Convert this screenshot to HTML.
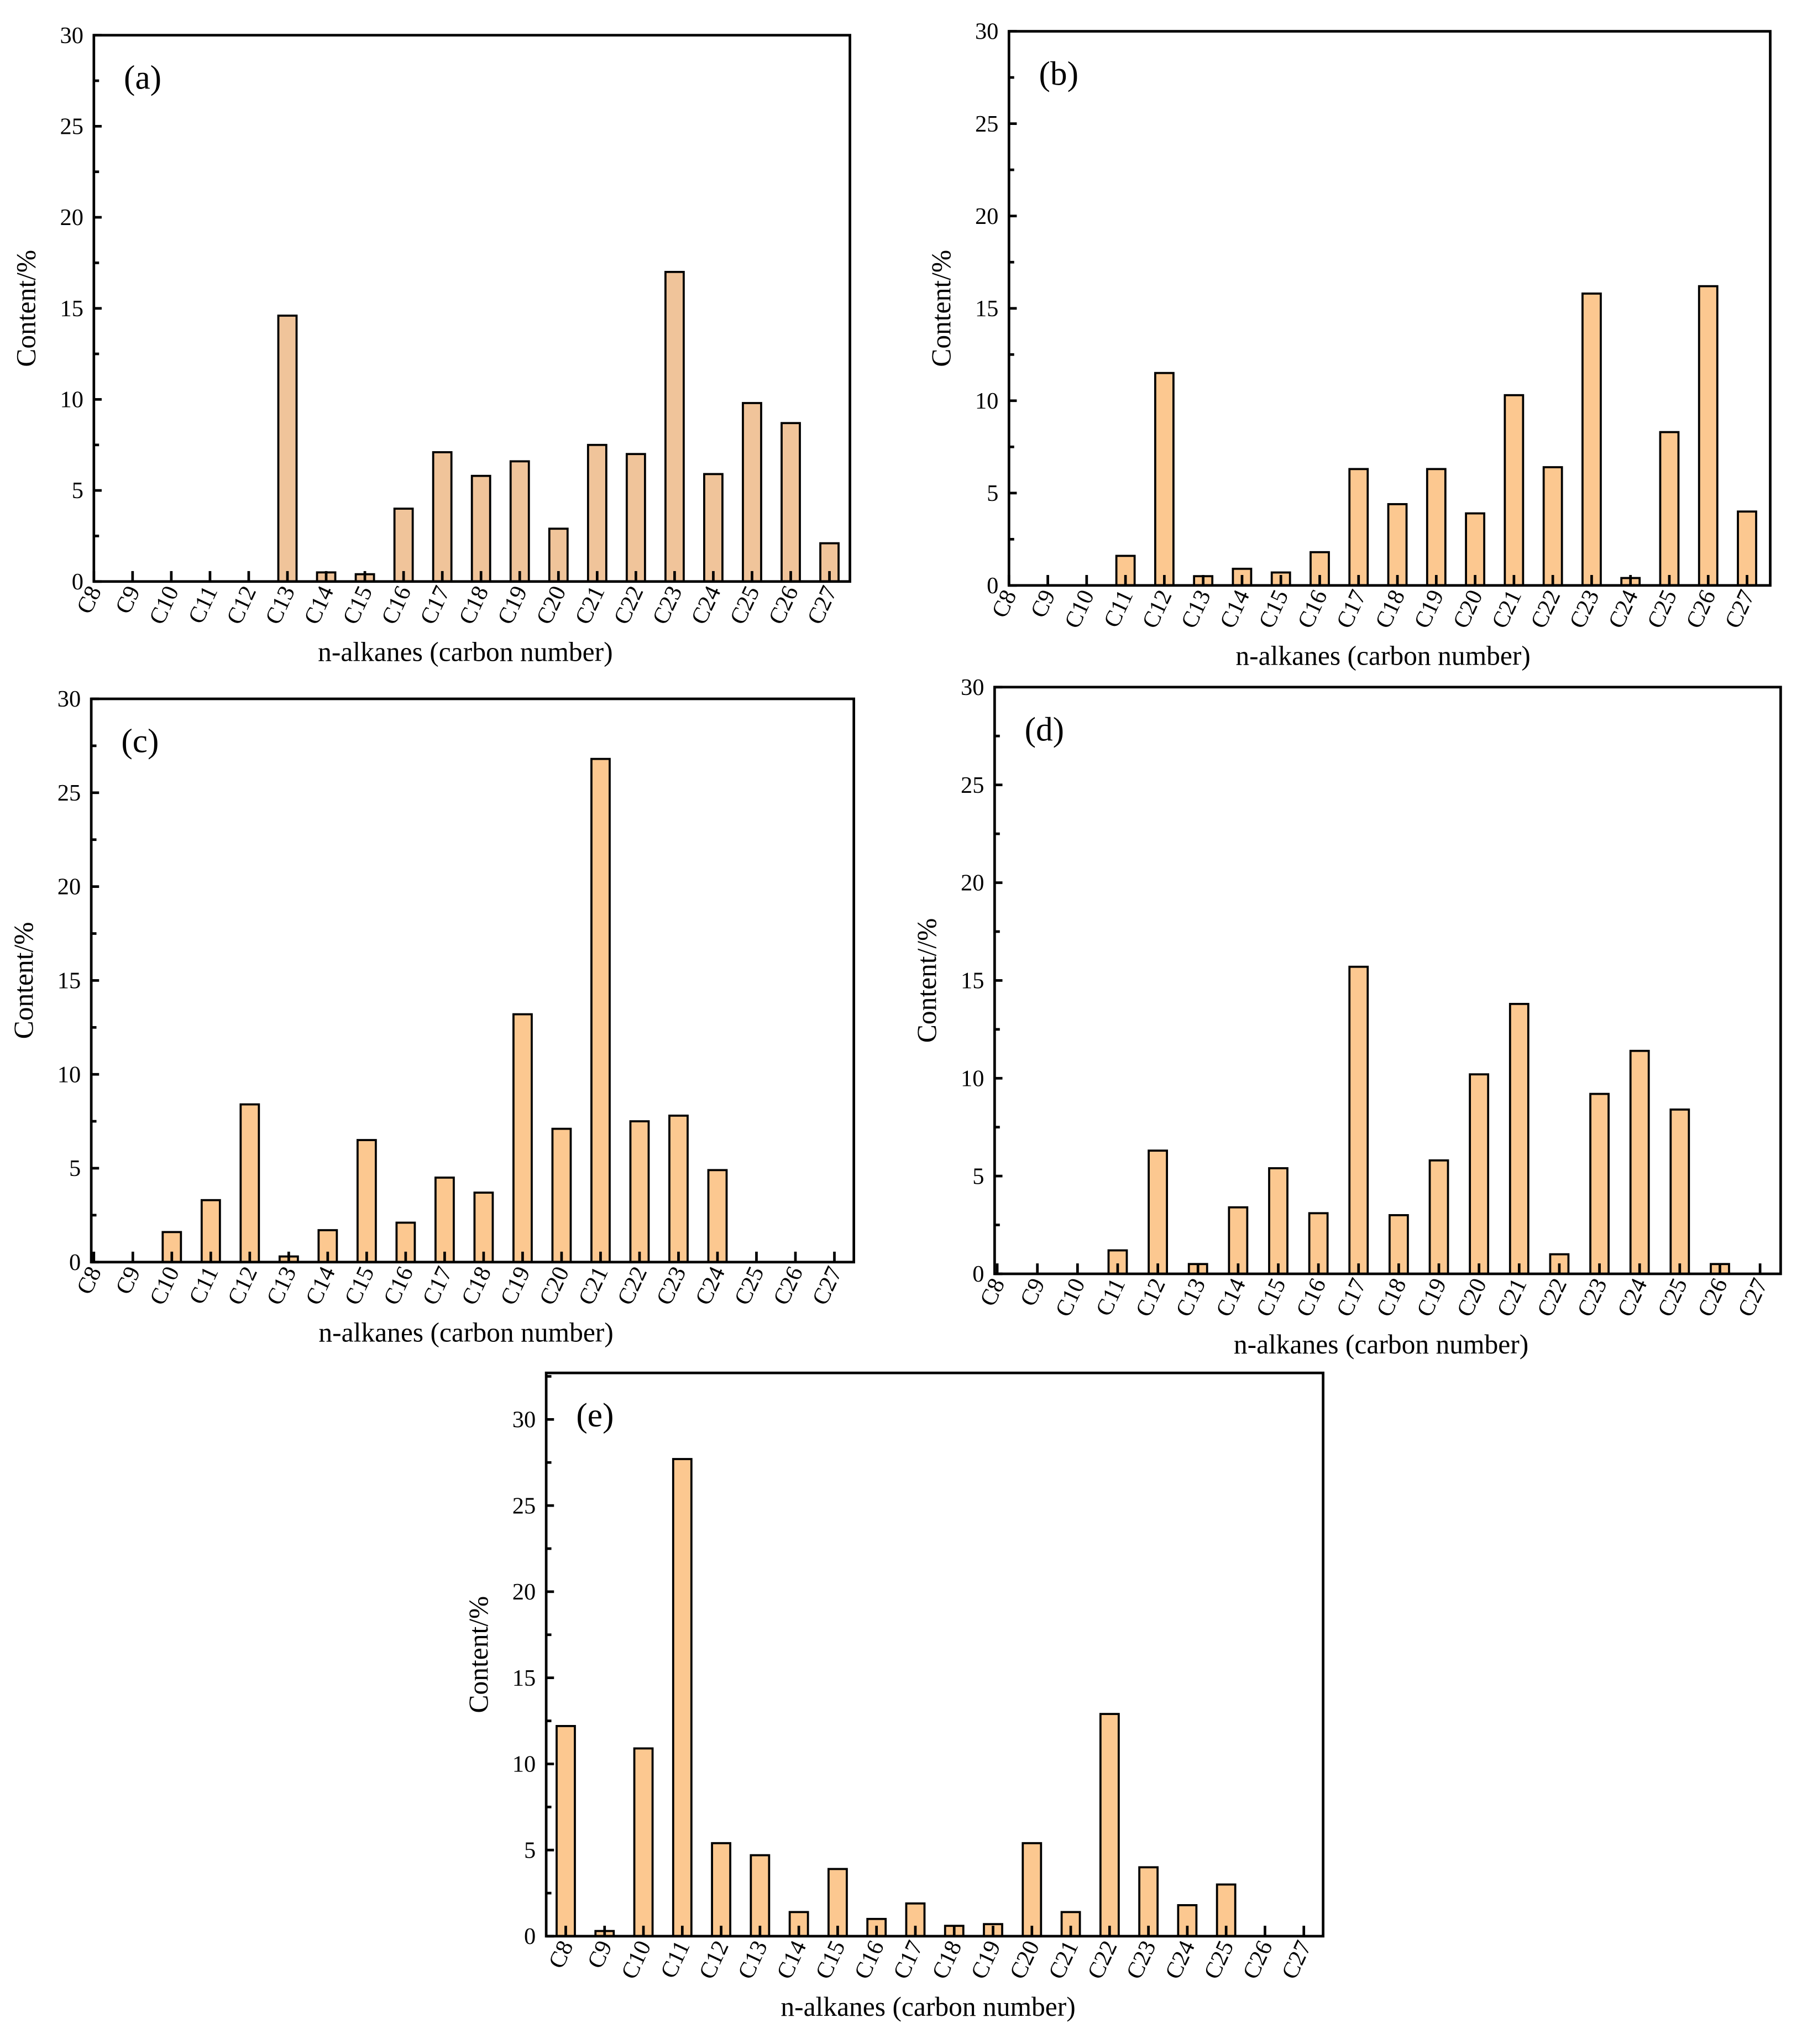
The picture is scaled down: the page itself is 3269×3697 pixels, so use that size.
<!DOCTYPE html>
<html><head><meta charset="utf-8"><style>
html,body{margin:0;padding:0;background:#fff}
svg{display:block}
text{font-family:"Liberation Serif",serif;fill:#000}
</style></head><body>
<svg id="fig" width="3269" height="3697" viewBox="0 0 1386.2 1567.7" xmlns="http://www.w3.org/2000/svg"></svg>
<script>
const categories = ["C8","C9","C10","C11","C12","C13","C14","C15","C16","C17","C18","C19","C20","C21","C22","C23","C24","C25","C26","C27"];
const valuesA = [0,0,0,0,0,14.6,0.5,0.4,4.0,7.1,5.8,6.6,2.9,7.5,7.0,17.0,5.9,9.8,8.7,2.1];
const valuesB = [0,0,0,1.6,11.5,0.5,0.9,0.7,1.8,6.3,4.4,6.3,3.9,10.3,6.4,15.8,0.4,8.3,16.2,4.0];
const valuesC = [0,0,1.6,3.3,8.4,0.3,1.7,6.5,2.1,4.5,3.7,13.2,7.1,26.8,7.5,7.8,4.9,0,0,0];
const valuesD = [0,0,0,1.2,6.3,0.5,3.4,5.4,3.1,15.7,3.0,5.8,10.2,13.8,1.0,9.2,11.4,8.4,0.5,0];
const valuesE = [12.2,0.3,10.9,27.7,5.4,4.7,1.4,3.9,1.0,1.9,0.6,0.7,5.4,1.4,12.9,4.0,1.8,3.0,0,0];
const yTicks = [0,5,10,15,20,25,30];

const NS = "http://www.w3.org/2000/svg";
const svg = document.getElementById('fig');
function mk(tag, attrs, parent){ const e=document.createElementNS(NS,tag); for(const k in attrs) e.setAttribute(k,attrs[k]); (parent||svg).appendChild(e); return e; }

function panel(id, label, vals, L, R, T, B, ymax, x0, dx, fill, ytitle){
  const g = mk('g',{});
  
  
  const y = v => B - (v/ymax)*(B-T);
  const x = i => x0 + i*dx;
  const bw = 14;
  vals.forEach((v,i)=>{
    if(v<=0) return;
    const r = mk('rect',{x:x(i)-bw/2,y:y(v),width:bw,height:B-y(v),fill:fill,stroke:'#000','stroke-width':1.6},g);
    
    
  });
  categories.forEach((c,i)=>{
    mk('line',{x1:x(i),x2:x(i),y1:B,y2:B-8,stroke:'#000','stroke-width':2},g);
    const t = mk('text',{x:0,y:0,'font-size':18,'text-anchor':'end',transform:`translate(${x(i)+6},${B+7}) rotate(-65)`},g);
    t.textContent=c;
    
    
  });
  for(let v=0; v<=ymax; v+=2.5){
    const major = Math.abs(v%5)<1e-6;
    mk('line',{x1:L,x2:L+(major?6:4),y1:y(v),y2:y(v),stroke:'#000','stroke-width':2},g);
  }
  yTicks.forEach(v=>{
    if(v>ymax) return;
    const t = mk('text',{x:L-8,y:y(v)+6,'font-size':18,'text-anchor':'end'},g);
    t.textContent=v;
    
    
  });
  const fr = mk('rect',{x:L,y:T,width:R-L,height:B-T,fill:'none',stroke:'#000','stroke-width':2},g);
  
  
  const pl = mk('text',{x:L+23,y:T+41,'font-size':26},g);
  pl.textContent=label;
  
  
  const xt = mk('text',{x:(L+R)/2-5,y:B+61,'font-size':21,'text-anchor':'middle'},g);
  xt.textContent='n-alkanes (carbon number)';
  
  
  const yt = mk('text',{x:0,y:0,'font-size':21,'text-anchor':'middle',transform:`translate(${L-45},${(T+B)/2}) rotate(-90)`},g);
  yt.textContent=ytitle;
  
  
}
panel('a','(a)',valuesA,72,652,27,446,30,72,29.7,'#f0c49a','Content/%');
panel('b','(b)',valuesB,774,1358,24,449,30,774,29.8,'#fcc890','Content/%');
panel('c','(c)',valuesC,70,655,536,968,30,72,29.9,'#fcc890','Content/%');
panel('d','(d)',valuesD,763,1366,527,977,30,765,30.8,'#fcc890','Content//%');
panel('e','(e)',valuesE,419,1015,1053,1485,32.7,434,29.8,'#fcc890','Content/%');
</script>
</body></html>
